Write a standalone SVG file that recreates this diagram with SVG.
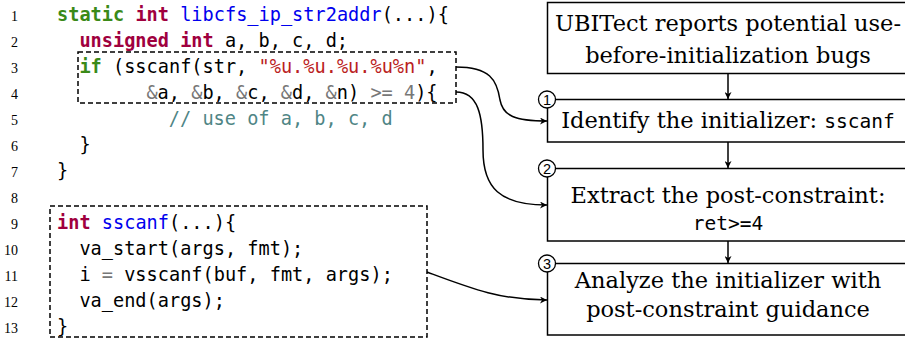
<svg xmlns="http://www.w3.org/2000/svg" width="905" height="341" viewBox="0 0 905 341">
<style>
.ln{font-family:"Liberation Serif","Times New Roman",serif;font-size:14px;fill:#000;text-anchor:end}
.code{font-family:"DejaVu Sans Mono","Liberation Mono",monospace;font-size:18.6px;fill:#000}
.kw{fill:#3a8a18;font-weight:bold}
.ty{fill:#a0003e;font-weight:bold}
.fn{fill:#0000ee}
.st{fill:#ba2121}
.op{fill:#777}
.cm{fill:#4f8585}
.box{fill:#fff;stroke:#000;stroke-width:1.5}
.dash{fill:none;stroke:#000;stroke-width:1.5;stroke-dasharray:5,3}
.lbl{font-family:"DejaVu Serif","Liberation Serif",serif;font-size:22.5px;fill:#000;text-anchor:middle}
.mono{font-family:"DejaVu Sans Mono","Liberation Mono",monospace;font-size:19.5px}
.conn{fill:none;stroke:#000;stroke-width:1.5}
.num{fill:#fff;stroke:#000;stroke-width:1.3}
.numt{font-family:"Liberation Sans",Arial,sans-serif;font-size:14.5px;text-anchor:middle;fill:#000}
</style>
<defs>
<marker id="ah" viewBox="0 0 10 10" refX="10" refY="5" markerWidth="7" markerHeight="7" markerUnits="userSpaceOnUse" orient="auto">
<path d="M0,0 L10,5 L0,10 L3,5 z" fill="#000"/>
</marker>
</defs>

<g id="code-main">
<text class="ln" x="18" y="21">1</text>
<text class="ln" x="18" y="47">2</text>
<text class="ln" x="18" y="73">3</text>
<text class="ln" x="18" y="99">4</text>
<text class="ln" x="18" y="125">5</text>
<text class="ln" x="18" y="151">6</text>
<text class="ln" x="18" y="177">7</text>
<text class="ln" x="18" y="203">8</text>
<text class="code" x="57" y="21"><tspan class="kw">static</tspan> <tspan class="ty">int</tspan> <tspan class="fn">libcfs_ip_str2addr</tspan>(...){</text>
<text class="code" x="79.4" y="47"><tspan class="ty">unsigned int</tspan> a, b, c, d;</text>
<text class="code" x="79.4" y="73"><tspan class="kw">if</tspan> (sscanf(str, <tspan class="st">"%u.%u.%u.%u%n"</tspan>,</text>
<text class="code" x="146.4" y="99"><tspan class="op">&amp;</tspan>a, <tspan class="op">&amp;</tspan>b, <tspan class="op">&amp;</tspan>c, <tspan class="op">&amp;</tspan>d, <tspan class="op">&amp;</tspan>n) <tspan class="op">&gt;=</tspan> <tspan class="op">4</tspan>){</text>
<text class="code cm" x="168.8" y="125">// use of a, b, c, d</text>
<text class="code" x="79.4" y="151">}</text>
<text class="code" x="57" y="177">}</text>
<rect class="dash" x="78" y="52" width="378" height="51"/>
</g>

<g id="code-sscanf">
<text class="ln" x="18" y="229">9</text>
<text class="ln" x="18" y="255">10</text>
<text class="ln" x="18" y="281">11</text>
<text class="ln" x="18" y="307">12</text>
<text class="ln" x="18" y="333">13</text>
<text class="code" x="57" y="229"><tspan class="ty">int</tspan> <tspan class="fn">sscanf</tspan>(...){</text>
<text class="code" x="79.4" y="255">va_start(args, fmt);</text>
<text class="code" x="79.4" y="281">i <tspan class="op">=</tspan> vsscanf(buf, fmt, args);</text>
<text class="code" x="79.4" y="307">va_end(args);</text>
<text class="code" x="57" y="333">}</text>
<rect class="dash" x="50" y="206" width="377" height="131"/>
</g>

<g id="connectors">
<line class="conn" x1="728" y1="74" x2="728" y2="99" marker-end="url(#ah)"/>
<line class="conn" x1="728" y1="142" x2="728" y2="168" marker-end="url(#ah)"/>
<line class="conn" x1="728" y1="241" x2="728" y2="263" marker-end="url(#ah)"/>
<path class="conn" d="M456,67 C490,67 497,80 500,100 C503,116 515,121 547,121" marker-end="url(#ah)"/>
<path class="conn" d="M456,92 C478,92 483,115 483,150 C483,188 500,205 547,205" marker-end="url(#ah)"/>
<path class="conn" d="M427,272 C470,288 500,300 547,300" marker-end="url(#ah)"/>
</g>

<g id="node-report">
<rect class="box" x="547.5" y="2.5" width="362" height="71"/>
<text class="lbl" x="728" y="31">UBITect reports potential use-</text>
<text class="lbl" x="728" y="63">before-initialization bugs</text>
</g>

<g id="node-identify">
<rect class="box" x="547.5" y="99.5" width="362" height="42.5"/>
<text class="lbl" x="728" y="128">Identify the initializer: <tspan class="mono">sscanf</tspan></text>
<circle class="num" cx="547" cy="99.5" r="8.5"/>
<text class="numt" x="547" y="104.7">1</text>
</g>

<g id="node-extract">
<rect class="box" x="547.5" y="168.5" width="362" height="72.5"/>
<text class="lbl" x="728" y="203">Extract the post-constraint:</text>
<text class="lbl mono" x="728" y="230">ret&gt;=4</text>
<circle class="num" cx="547" cy="168.5" r="8.5"/>
<text class="numt" x="547" y="173.7">2</text>
</g>

<g id="node-analyze">
<rect class="box" x="547.5" y="263.5" width="362" height="71.5"/>
<text class="lbl" x="728" y="288">Analyze the initializer with</text>
<text class="lbl" x="728" y="317">post-constraint guidance</text>
<circle class="num" cx="547" cy="263.5" r="8.5"/>
<text class="numt" x="547" y="268.7">3</text>
</g>
</svg>
